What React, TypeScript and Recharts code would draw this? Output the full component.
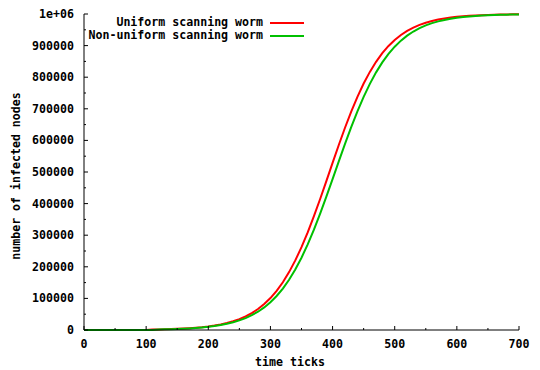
import { LineChart, Line, XAxis, YAxis } from 'recharts'

// --- Data ---

const timeTicks = [
  0, 10, 20, 30, 40, 50, 60, 70, 80, 90,
  100, 110, 120, 130, 140, 150, 160, 170, 180, 190,
  200, 210, 220, 230, 240, 250, 260, 270, 280, 290,
  300, 310, 320, 330, 340, 350, 360, 370, 380, 390,
  400, 410, 420, 430, 440, 450, 460, 470, 480, 490,
  500, 510, 520, 530, 540, 550, 560, 570, 580, 590,
  600, 610, 620, 630, 640, 650, 660, 670, 680, 690,
  700,
]

const uniformWorm = [
  0, 0, 0, 0, 0, 0, 0, 0, 0, 0,
  0, 1400, 1800, 2300, 2800, 3600, 4500, 5600, 7100, 8900,
  11200, 14000, 17600, 22000, 27500, 34400, 42900, 53400, 66300, 82200,
  101100, 124000, 151200, 183200, 220200, 262100, 308900, 360100, 414600, 471300,
  528800, 585400, 640000, 691000, 738000, 779900, 816800, 848700, 876000, 898900,
  917900, 933700, 946600, 957100, 965600, 972500, 978000, 982400, 986000, 988800,
  991100, 993000, 994400, 995500, 996400, 997200, 997800, 998200, 998600, 998900,
  999100,
]

const nonUniformWorm = [
  0, 0, 0, 0, 0, 0, 0, 0, 0, 0,
  0, 0, 1700, 2100, 2600, 3300, 4100, 5100, 6400, 8000,
  10000, 12600, 15700, 19600, 24400, 30300, 37700, 46800, 57900, 71400,
  87900, 107600, 131200, 159100, 191500, 228800, 270900, 317600, 368200, 421900,
  477500, 533700, 589000, 642200, 692100, 738000, 778900, 815300, 846800, 873800,
  896600, 915700, 931500, 944500, 955200, 963900, 971000, 976700, 981300, 985000,
  988000, 990400, 992300, 993800, 995100, 996100, 996900, 997500, 998000, 998400,
  998700,
]

const xTicks = [0, 50, 100, 150, 200, 250, 300, 350, 400, 450, 500, 550, 600, 650, 700]
const yTicks = [
  0, 50000, 100000, 150000, 200000, 250000, 300000, 350000, 400000, 450000,
  500000, 550000, 600000, 650000, 700000, 750000, 800000, 850000, 900000, 950000, 1000000,
]

const chartData = timeTicks.map((t, i) => ({
  t,
  uniform: uniformWorm[i],
  nonUniform: nonUniformWorm[i],
}))

// --- Styling ---

const FONT = '"DejaVu Sans Mono", "Liberation Mono", monospace'
const FS = 11.6
const RED = '#ff0000'
const GREEN = '#00c000'
const MAJOR = 4
const MINOR = 2

const fmtY = (v: number) => (v === 1000000 ? '1e+06' : String(v))

// gnuplot style ticks: pointing inward, minor ticks shorter

const BottomTick = ({ x, y, payload }: any) => {
  const major = payload.value % 100 === 0
  return (
    <g>
      <line x1={x} y1={y} x2={x} y2={y - (major ? MAJOR : MINOR)} stroke="#000" />
      {major && (
        <text x={x} y={y + 18} textAnchor="middle" fontFamily={FONT} fontSize={FS} fontWeight="bold" fill="#000">
          {payload.value}
        </text>
      )}
    </g>
  )
}

const TopTick = ({ x, y, payload }: any) => {
  const major = payload.value % 100 === 0
  return <line x1={x} y1={y} x2={x} y2={y + (major ? MAJOR : MINOR)} stroke="#000" />
}

const LeftTick = ({ x, y, payload }: any) => {
  const major = payload.value % 100000 === 0
  return (
    <g>
      <line x1={x} y1={y} x2={x + (major ? MAJOR : MINOR)} y2={y} stroke="#000" />
      {major && (
        <text x={x - 10} y={y + 4} textAnchor="end" fontFamily={FONT} fontSize={FS} fontWeight="bold" fill="#000">
          {fmtY(payload.value)}
        </text>
      )}
    </g>
  )
}

const RightTick = ({ x, y, payload }: any) => {
  const major = payload.value % 100000 === 0
  return <line x1={x} y1={y} x2={x - (major ? MAJOR : MINOR)} y2={y} stroke="#000" />
}

const XTitle = ({ viewBox }: any) => (
  <text x={290} y={viewBox.y + 36} textAnchor="middle" fontFamily={FONT} fontSize={FS} fontWeight="bold" fill="#000">
    time ticks
  </text>
)

const YTitle = () => (
  <text
    x={20}
    y={176}
    transform="rotate(-90, 20, 176)"
    textAnchor="middle"
    fontFamily={FONT}
    fontSize={FS}
    fontWeight="bold"
    fill="#000"
  >
    number of infected nodes
  </text>
)

const legendRows = [
  { label: 'Uniform scanning worm', color: RED },
  { label: 'Non-uniform scanning worm', color: GREEN },
]

export default function App() {
  return (
    <div style={{ position: 'absolute', left: 0, top: 0, width: 540, height: 370, background: '#fff' }}>
      <LineChart width={540} height={370} data={chartData} margin={{ top: 14, right: 21, bottom: 0, left: 0 }}>
        <XAxis
          dataKey="t"
          type="number"
          domain={[0, 700]}
          ticks={xTicks}
          interval={0}
          height={40}
          tickSize={0}
          tickMargin={0}
          tickLine={false}
          axisLine={{ stroke: '#000' }}
          tick={<BottomTick />}
          label={<XTitle />}
        />
        <XAxis
          xAxisId="top"
          orientation="top"
          dataKey="t"
          type="number"
          domain={[0, 700]}
          ticks={xTicks}
          interval={0}
          height={0}
          tickSize={0}
          tickMargin={0}
          tickLine={false}
          axisLine={{ stroke: '#000' }}
          tick={<TopTick />}
        />
        <YAxis
          type="number"
          domain={[0, 1000000]}
          ticks={yTicks}
          interval={0}
          width={84}
          tickSize={0}
          tickMargin={0}
          tickLine={false}
          axisLine={{ stroke: '#000' }}
          tick={<LeftTick />}
          label={<YTitle />}
        />
        <YAxis
          yAxisId="right"
          orientation="right"
          type="number"
          domain={[0, 1000000]}
          ticks={yTicks}
          interval={0}
          width={0}
          tickSize={0}
          tickMargin={0}
          tickLine={false}
          axisLine={{ stroke: '#000' }}
          tick={<RightTick />}
        />
        <Line
          dataKey="uniform"
          stroke={RED}
          strokeWidth={2}
          dot={false}
          type="linear"
          isAnimationActive={false}
        />
        <Line
          dataKey="nonUniform"
          stroke={GREEN}
          strokeWidth={2}
          dot={false}
          type="linear"
          isAnimationActive={false}
        />
      </LineChart>

      {/* key, top-left inside the plot like gnuplot draws it */}
      {legendRows.map((row, i) => (
        <div key={row.label}>
          <div
            style={{
              position: 'absolute',
              left: 0,
              width: 263,
              top: 16 + i * 13,
              lineHeight: '13px',
              textAlign: 'right',
              fontFamily: FONT,
              fontSize: FS,
              fontWeight: 'bold',
              color: '#000',
              whiteSpace: 'nowrap',
            }}
          >
            {row.label}
          </div>
          <div
            style={{
              position: 'absolute',
              left: 270,
              width: 34,
              height: 2,
              top: 22 + i * 13,
              background: row.color,
            }}
          />
        </div>
      ))}
    </div>
  )
}
